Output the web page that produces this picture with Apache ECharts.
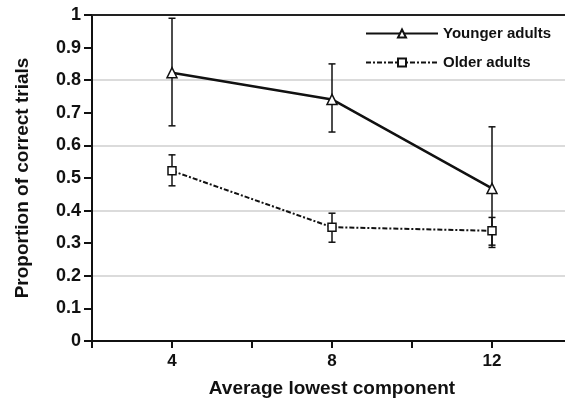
<!DOCTYPE html>
<html>
<head>
<meta charset="utf-8">
<script src="https://cdn.jsdelivr.net/npm/echarts@6/dist/echarts.min.js"></script>
<style>
  html, body { margin: 0; padding: 0; background: #fff; }
  #chart { width: 565px; height: 400px; }
</style>
</head>
<body>
<div id="chart"></div>
<script>
// values
const components = [4, 8, 12]
const youngerMean = [0.823, 0.741, 0.468]
const youngerLow = [0.66, 0.641, 0.287]
const youngerHigh = [0.99, 0.85, 0.657]
const olderMean = [0.522, 0.349, 0.338]
const olderLow = [0.476, 0.303, 0.294]
const olderHigh = [0.571, 0.392, 0.379]
const xLabels = [4, 8, 12]

const chart = echarts.init(document.getElementById('chart'))
const font = 'Liberation Sans, Arial, sans-serif'

// error bars: vertical line + small caps
const errorBars = (low, high) => ({
  type: 'custom',
  silent: true,
  z: 1,
  data: components.map((x, i) => [x, low[i], high[i]]),
  renderItem: (params, api) => {
    const lo = api.coord([api.value(0), api.value(1)])
    const hi = api.coord([api.value(0), api.value(2)])
    const w = 3.5
    const style = { stroke: '#111', lineWidth: 1.5 }
    return {
      type: 'group',
      children: [
        { type: 'line', shape: { x1: lo[0], y1: lo[1], x2: hi[0], y2: hi[1] }, style },
        { type: 'line', shape: { x1: lo[0] - w, y1: lo[1], x2: lo[0] + w, y2: lo[1] }, style },
        { type: 'line', shape: { x1: hi[0] - w, y1: hi[1], x2: hi[0] + w, y2: hi[1] }, style }
      ]
    }
  }
})

const option = {
  animation: false,
  backgroundColor: '#fff',
  grid: { left: 92, top: 15, width: 480, bottom: 59, outerBoundsMode: 'none', containLabel: false },
  legend: {
    orient: 'vertical',
    left: 360,
    top: 21,
    itemWidth: 72,
    itemHeight: 10,
    itemGap: 14,
    textStyle: { fontFamily: font, fontSize: 15, fontWeight: 'bold', color: '#111' },
    data: ['Younger adults', 'Older adults']
  },
  xAxis: [{
    type: 'value',
    min: 2,
    max: 14,
    interval: 2,
    name: 'Average lowest component',
    nameLocation: 'middle',
    nameGap: 38,
    nameTextStyle: { fontFamily: font, fontSize: 19, fontWeight: 'bold', color: '#111' },
    axisLine: { lineStyle: { color: '#111', width: 2 } },
    axisTick: { length: 7, lineStyle: { color: '#111', width: 2 } },
    axisLabel: {
      fontFamily: font, fontSize: 17, fontWeight: 'bold', color: '#111', margin: 12,
      formatter: v => xLabels.includes(v) ? String(v) : ''
    },
    splitLine: { show: false }
  }, {
    type: 'value',
    position: 'top',
    min: 2,
    max: 14,
    axisLine: { show: true, onZero: false, lineStyle: { color: '#222', width: 2 } },
    axisTick: { show: false },
    axisLabel: { show: false },
    splitLine: { show: false }
  }],
  yAxis: [{
    type: 'value',
    min: 0,
    max: 1,
    interval: 0.1,
    name: 'Proportion of correct trials',
    nameLocation: 'middle',
    nameGap: 60,
    nameTextStyle: { fontFamily: font, fontSize: 19, fontWeight: 'bold', color: '#111' },
    axisLine: { show: true, lineStyle: { color: '#111', width: 2 } },
    axisTick: { show: true, length: 8, lineStyle: { color: '#111', width: 2 } },
    axisLabel: { fontFamily: font, fontSize: 18, fontWeight: 'bold', color: '#111', margin: 11 },
    splitLine: { show: false }
  }, {
    type: 'value',
    min: 0,
    max: 1,
    interval: 0.2,
    position: 'left',
    axisLine: { show: false },
    axisTick: { show: false },
    axisLabel: { show: false },
    splitLine: { show: true, lineStyle: { color: '#cfcfcf', width: 1.5 } }
  }],
  series: [
    errorBars(youngerLow, youngerHigh),
    errorBars(olderLow, olderHigh),
    {
      name: 'Younger adults',
      type: 'line',
      z: 3,
      data: components.map((x, i) => [x, youngerMean[i]]),
      symbol: 'triangle',
      symbolSize: 10,
      itemStyle: { color: '#fff', borderColor: '#111', borderWidth: 1.5 },
      lineStyle: { color: '#111', width: 2.5 }
    },
    {
      name: 'Older adults',
      type: 'line',
      z: 3,
      data: components.map((x, i) => [x, olderMean[i]]),
      symbol: 'rect',
      symbolSize: 8,
      itemStyle: { color: '#fff', borderColor: '#111', borderWidth: 1.5 },
      lineStyle: { color: '#111', width: 2, type: [5, 2, 2, 2] }
    }
  ]
}

chart.setOption(option)
</script>
</body>
</html>
